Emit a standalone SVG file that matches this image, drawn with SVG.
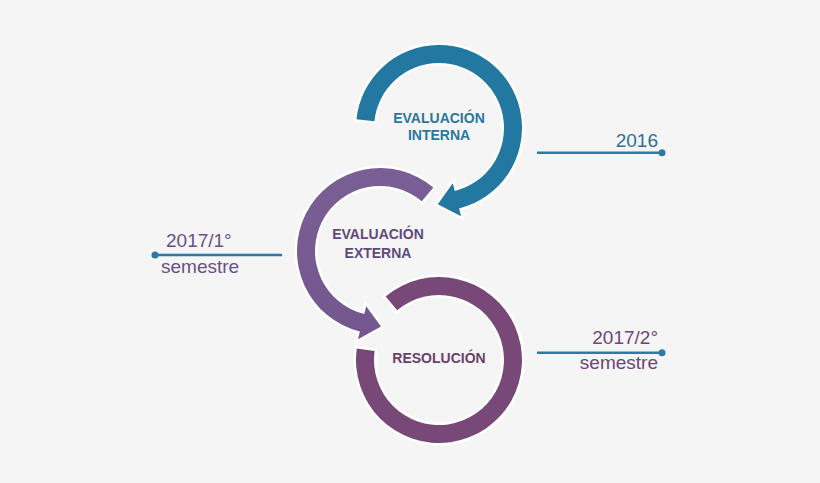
<svg xmlns="http://www.w3.org/2000/svg" width="820" height="483" viewBox="0 0 820 483">
<defs>
<linearGradient id="gMid" x1="0" y1="0" x2="0" y2="1">
<stop offset="0" stop-color="#7a5f95"/>
<stop offset="1" stop-color="#73568e"/>
</linearGradient>
</defs>
<style>
.ring{stroke:#ffffff;stroke-width:5;stroke-linejoin:miter;paint-order:stroke}
.lbl{font-family:"Liberation Sans",Arial,sans-serif;font-weight:bold;font-size:14px;text-anchor:middle}
.yr{font-family:"Liberation Sans",Arial,sans-serif;font-size:19px}
.tl{stroke:#2f7aa5;stroke-width:2.5;fill:none}
.dot{fill:#2f7aa5}
</style>
<rect width="820" height="483" fill="#f5f5f5"/>
<g id="connectors">
<line class="tl" x1="537" y1="152.7" x2="662" y2="152.7"/>
<circle class="dot" cx="662" cy="152.7" r="3.5"/>
<line class="tl" x1="155" y1="255" x2="282" y2="255"/>
<circle class="dot" cx="155" cy="255" r="3.5"/>
<line class="tl" x1="537" y1="352.7" x2="662" y2="352.7"/>
<circle class="dot" cx="662" cy="352.7" r="3.5"/>
</g>
<g id="resolucion">
<path class="ring" fill="#784878" d="M385.65,296.42 A83,83 0 1 1 356.81,348.45 L374.63,350.95 A65,65 0 1 0 397.22,310.21 Z"/>
<text class="lbl" x="439" y="363" fill="#6c3e6e">RESOLUCIÓN</text>
</g>
<g id="evaluacion-externa">
<path class="ring" fill="url(#gMid)" d="M433.35,187.42 A83,83 0 1 0 359.92,331.53 L357.99,339.30 L381.0,326.5 L366.21,306.31 L364.28,314.07 A65,65 0 1 1 421.78,201.21 Z"/>
<text class="lbl" x="378" y="239" fill="#5f4a79">EVALUACIÓN</text>
<text class="lbl" x="378" y="258" fill="#5f4a79">EXTERNA</text>
</g>
<g id="evaluacion-interna">
<path class="ring" fill="#2278a1" d="M356.45,119.33 A83,83 0 1 1 459.08,208.53 L461.01,216.30 L437.8,204.3 L452.79,183.31 L454.72,191.07 A65,65 0 1 0 374.36,121.21 Z"/>
<text class="lbl" x="439" y="123" fill="#2a77a0">EVALUACIÓN</text>
<text class="lbl" x="439" y="140" fill="#2a77a0">INTERNA</text>
</g>
<g id="label-2016">
<text class="yr" x="658" y="147" text-anchor="end" fill="#2e6f99">2016</text>
</g>
<g id="label-2017-1">
<text class="yr" x="166" y="247" fill="#6a5085">2017/1°</text>
<text class="yr" x="161" y="273" fill="#6a5085">semestre</text>
</g>
<g id="label-2017-2">
<text class="yr" x="658" y="344" text-anchor="end" fill="#6d4777">2017/2°</text>
<text class="yr" x="658" y="369" text-anchor="end" fill="#6d4777">semestre</text>
</g>
</svg>
